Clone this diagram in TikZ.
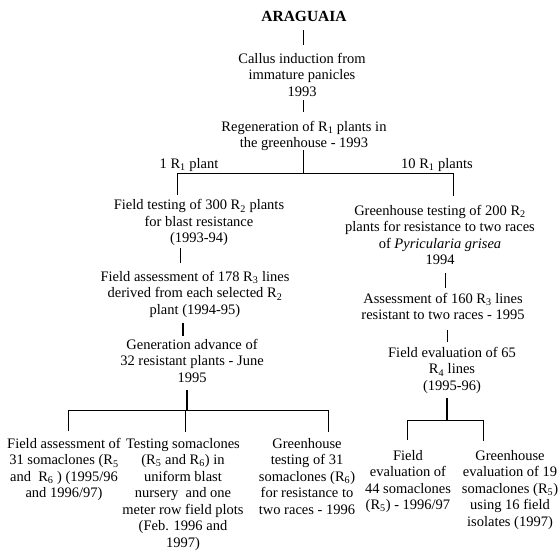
\documentclass[tikz,border=0pt]{standalone}
\usepackage{fontspec}
\setmainfont{Liberation Serif}
\begin{document}
\begin{tikzpicture}[x=1pt,y=-1pt,
  txt/.style={align=center, inner sep=0pt, anchor=north, font=\fontsize{14.5}{16.5}\selectfont},
  thin/.style={line width=0.9pt},
  thick2/.style={line width=2pt}]
\useasboundingbox (0,0) rectangle (558,552);
\newcommand{\Rs}[1]{R\textsubscript{#1}}
% nodes
\node[txt,font=\fontsize{15.5}{17}\selectfont\bfseries] (arag) at (304,11.5) {ARAGUAIA};
\node[txt] (callus) at (302,53) {Callus induction from\\immature panicles\\1993};
\node[txt] (regen) at (304,121) {Regeneration of \Rs{1} plants in\\the greenhouse - 1993};
\node[txt] (lab1) at (189,158) {1 \Rs{1} plant};
\node[txt] (lab10) at (437,158) {10 \Rs{1} plants};
\node[txt] (ft300) at (199,199.5) {Field testing of 300 \Rs{2} plants\\for blast resistance\\(1993-94)};
\node[txt] (fa178) at (195,271) {Field assessment of 178 \Rs{3} lines\\derived from each selected \Rs{2}\\plant (1994-95)};
\node[txt] (gen) at (192,339) {Generation advance of\\32 resistant plants - June\\1995};
\node[txt] (gh200) at (440,205) {Greenhouse testing of 200 \Rs{2}\\plants for resistance to two races\\of \textit{Pyricularia grisea}\\1994};
\node[txt] (as160) at (443,293) {Assessment of 160 \Rs{3} lines\\resistant to two races - 1995};
\node[txt] (fe65) at (452,347) {Field evaluation of 65\\\Rs{4} lines\\(1995-96)};
\node[txt] (b1) at (64,438) {Field assessment of\\31 somaclones (\Rs{5}\\and\ \ \Rs{6} ) (1995/96\\and 1996/97)};
\node[txt] (b2) at (183,438) {Testing somaclones\\(\Rs{5} and \Rs{6}) in\\uniform blast\\nursery\ \ and one\\meter row field plots\\(Feb. 1996 and\\1997)};
\node[txt] (b3) at (307,438) {Greenhouse\\testing of 31\\somaclones (\Rs{6})\\for resistance to\\two races - 1996};
\node[txt] (b4) at (408,450) {Field\\evaluation of\\44 somaclones\\(\Rs{5}) - 1996/97};
\node[txt] (b5) at (510,450) {Greenhouse\\evaluation of 19\\somaclones (\Rs{5})\\using 16 field\\isolates (1997)};
% connector coordinates
\coordinate (a1) at (303,30); \coordinate (a2) at (303,45);
\coordinate (c1) at (303,100); \coordinate (c2) at (303,112);
\coordinate (r1) at (303,150); \coordinate (r2) at (303,173);
\coordinate (hl) at (177,173); \coordinate (hr) at (453,173);
\coordinate (hl2) at (177,195); \coordinate (hr2) at (453,196);
\coordinate (f1) at (180,248); \coordinate (f2) at (180,263);
\coordinate (g1) at (183,323); \coordinate (g2) at (183,336);
\coordinate (k1) at (187,390); \coordinate (k2) at (187,410);
\coordinate (bl) at (68,410); \coordinate (bm) at (185,410); \coordinate (br) at (328,410);
\coordinate (bl2) at (68,431); \coordinate (bm2) at (185,432); \coordinate (br2) at (328,432);
\coordinate (s1) at (445,273); \coordinate (s2) at (445,288);
\coordinate (t1) at (447,330); \coordinate (t2) at (447,342);
\coordinate (u1) at (447,398); \coordinate (u2) at (447,420);
\coordinate (ul) at (407,420); \coordinate (ur) at (483,420);
\coordinate (ul2) at (407,440); \coordinate (ur2) at (483,441);
% connectors
\draw[thin] (a1) -- (a2);
\draw[thin] (c1) -- (c2);
\draw[thin] (r1) -- (r2);
\draw[thin] (hl2) -- (hl) -- (hr) -- (hr2);
\draw[thin] (f1) -- (f2);
\draw[thick2] (g1) -- (g2);
\draw[thick2] (k1) -- (k2);
\draw[thin] (bl2) -- (bl) -- (br) -- (br2);
\draw[thin] (bm) -- (bm2);
\draw[thin] (s1) -- (s2);
\draw[thin] (t1) -- (t2);
\draw[thick2] (u1) -- (u2);
\draw[thin] (ul2) -- (ul) -- (ur) -- (ur2);
\end{tikzpicture}
\end{document}
